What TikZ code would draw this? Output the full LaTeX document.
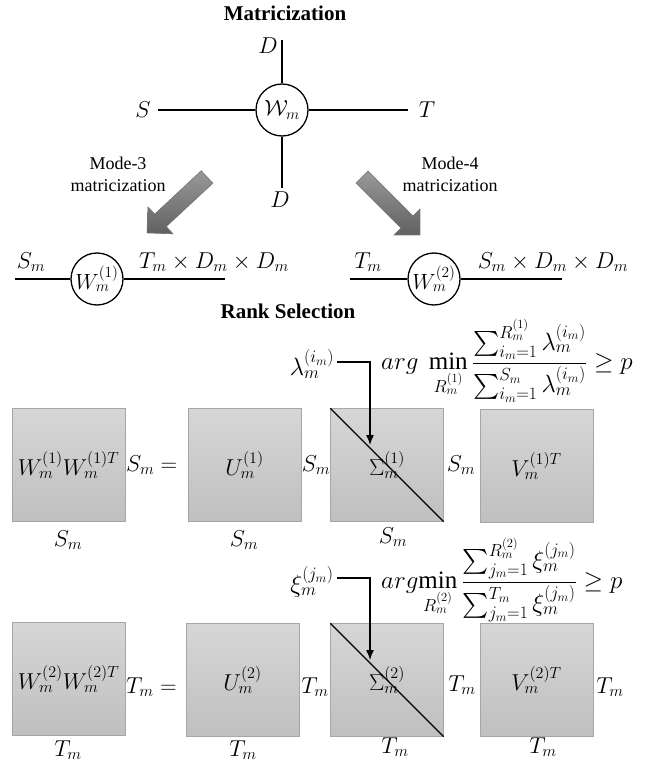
\RequirePackage{fix-cm}
\documentclass[tikz,border=0pt]{standalone}
\usepackage{amsmath}
\usepackage{fontspec}
\setmainfont{Liberation Serif}
\usetikzlibrary{arrows.meta,positioning,calc}
\tikzset{
  heading/.style={font=\fontsize{21}{24}\selectfont\bfseries, inner sep=0pt},
  modetext/.style={font=\fontsize{18}{22}\selectfont, align=center, inner sep=0pt},
  lbl/.style={font=\fontsize{23}{27}\selectfont, inner sep=1pt},
  coef/.style={font=\fontsize{25}{29}\selectfont, inner sep=0pt},
  formula/.style={font=\fontsize{25}{29}\selectfont, inner sep=0pt},
  tensor/.style={circle, draw, line width=1.3pt, minimum size=52pt, inner sep=0pt,
                 fill=white, font=\fontsize{22}{26}\selectfont},
  matbox/.style={draw=gray!70, top color=gray!32, bottom color=gray!50,
                 minimum size=113pt, inner sep=0pt, font=\fontsize{23}{27}\selectfont},
  leg/.style={line width=1.3pt},
  blockarr/.style={draw=black!55, line width=0.6pt, top color=gray!80, bottom color=black!62},
  arr/.style={-{Latex[length=10pt,width=8pt]}, line width=1.4pt}}

\begin{document}
\begin{tikzpicture}[x=1pt,y=-1pt]
    \useasboundingbox (0,0) rectangle (656,767);
    \node[heading] (title) at (285,13) {Matricization};
    % tensor and its four legs
    \node[tensor] (wm) at (282,110) {$\mathcal{W}_m$};
    \coordinate (legup) at (282,40);
    \coordinate (legdown) at (282,188);
    \coordinate (legleft) at (158,110);
    \coordinate (legright) at (408,110);
    \draw[leg] (wm) -- (legup);
    \draw[leg] (wm) -- (legdown);
    \draw[leg] (wm) -- (legleft);
    \draw[leg] (wm) -- (legright);
    \node[lbl] (dup) at (268,46) {$D$};
    \node[lbl] (ddown) at (280,200) {$D$};
    \node[lbl] (sleft) at (143,110) {$S$};
    \node[lbl] (tright) at (427,110) {$T$};
    \node[modetext] (mode3) at (118,174) {Mode-3\\matricization};
    \node[modetext] (mode4) at (450,174) {Mode-4\\matricization};
    \begin{scope}[shift={(207,177)}, rotate=-137]
      \draw[blockarr] (0,-8.5) -- (63.6,-8.5) -- (63.6,-18.4) -- (82,0)
        -- (63.6,18.4) -- (63.6,8.5) -- (0,8.5) -- cycle;
    \end{scope}
    \begin{scope}[shift={(362,177)}, rotate=-45]
      \draw[blockarr] (0,-8.5) -- (63.6,-8.5) -- (63.6,-18.4) -- (82,0)
        -- (63.6,18.4) -- (63.6,8.5) -- (0,8.5) -- cycle;
    \end{scope}
    % unfolded matrices
    \coordinate (m1left) at (15,279);
    \coordinate (m1right) at (225,279);
    \node[tensor] (wone) at (97,279) {$W_m^{(1)}$};
    \draw[leg] (m1left) -- (wone) -- (m1right);
    \node[lbl] (sm) at (31,262) {$S_m$};
    \node[lbl] (tdd) at (214,262) {$T_m\times D_m\times D_m$};
    \coordinate (m2left) at (350,279);
    \coordinate (m2right) at (562,279);
    \node[tensor] (wtwo) at (434,279) {$W_m^{(2)}$};
    \draw[leg] (m2left) -- (wtwo) -- (m2right);
    \node[lbl] (tm) at (368,262) {$T_m$};
    \node[lbl] (sdd) at (553,262) {$S_m\times D_m\times D_m$};
    \node[heading] (rank) at (288,311) {Rank Selection};
    % first decomposition
    \node[matbox] (wwt1) at (68.5,465) {$W_m^{(1)}W_m^{(1)T}$};
    \node[matbox] (u1) at (244.5,465) {$U_m^{(1)}$};
    \node[matbox] (sig1) at (387,465) {$\Sigma_m^{(1)}$};
    \node[matbox] (vt1) at (536.5,466) {$V_m^{(1)T}$};
    \draw[leg] (sig1.north west) -- (sig1.south east);
    \node[lbl, anchor=west] (eq1) at (125,465) {$S_m=$};
    \node[lbl] (s1a) at (68,540) {$S_m$};
    \node[lbl] (s1b) at (316,465) {$S_m$};
    \node[lbl] (s1c) at (244,540) {$S_m$};
    \node[lbl] (s1d) at (461,465) {$S_m$};
    \node[lbl] (s1e) at (393,537) {$S_m$};
    \node[coef] (lam) at (312,364) {$\lambda_m^{(i_m)}$};
    \node[formula, anchor=west] (crit1) at (381,361)
      {$\displaystyle arg\ \min_{R_m^{(1)}}\frac{\sum_{i_m=1}^{R_m^{(1)}}\lambda_m^{(i_m)}}{\sum_{i_m=1}^{S_m}\lambda_m^{(i_m)}}\geq p$};
    \coordinate (tip1) at (370,445);
    \draw[arr] ([xshift=3pt]lam.east |- 0,362) -| (tip1);
    % second decomposition
    \node[matbox] (wwt2) at (68.5,678.5) {$W_m^{(2)}W_m^{(2)T}$};
    \node[matbox] (u2) at (242.5,680) {$U_m^{(2)}$};
    \node[matbox] (sig2) at (387,680) {$\Sigma_m^{(2)}$};
    \node[matbox] (vt2) at (536.5,680) {$V_m^{(2)T}$};
    \draw[leg] (sig2.north west) -- (sig2.south east);
    \node[lbl, anchor=west] (eq2) at (125,687) {$T_m=$};
    \node[lbl] (t2a) at (68,750) {$T_m$};
    \node[lbl] (t2b) at (315,687) {$T_m$};
    \node[lbl] (t2c) at (243,750) {$T_m$};
    \node[lbl] (t2d) at (462,685) {$T_m$};
    \node[lbl] (t2e) at (395,747) {$T_m$};
    \node[lbl] (t2f) at (610,687) {$T_m$};
    \node[lbl] (t2g) at (543,747) {$T_m$};
    \node[coef] (xi) at (312,582) {$\xi_m^{(j_m)}$};
    \node[formula, anchor=west] (crit2) at (381,580)
      {$\displaystyle arg\!\min_{R_m^{(2)}}\frac{\sum_{j_m=1}^{R_m^{(2)}}\xi_m^{(j_m)}}{\sum_{j_m=1}^{T_m}\xi_m^{(j_m)}}\geq p$};
    \coordinate (tip2) at (370,660);
    \draw[arr] ([xshift=3pt]xi.east |- 0,578) -| (tip2);
  \end{tikzpicture}
\end{document}
